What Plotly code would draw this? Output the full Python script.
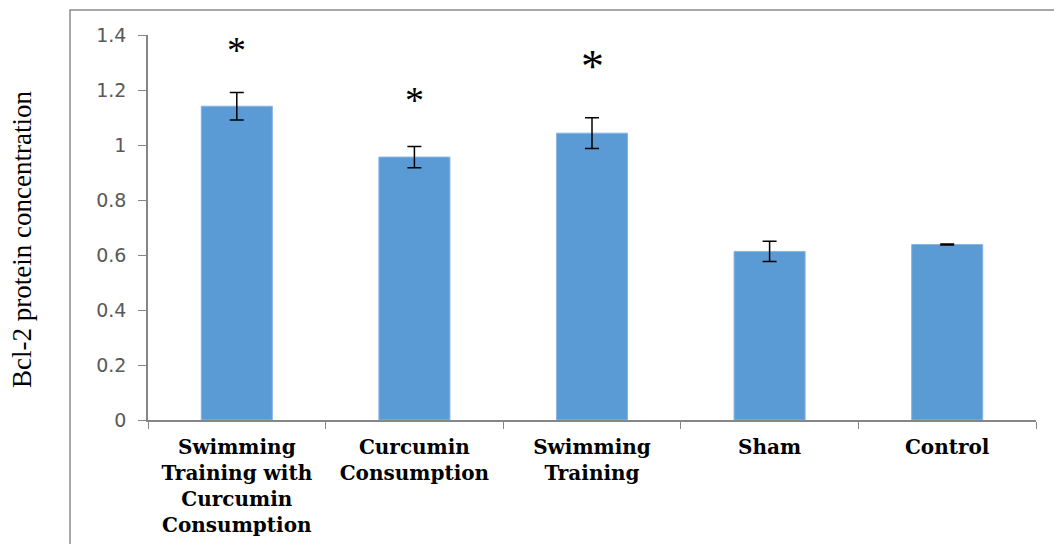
import plotly.graph_objects as go

categories = ["Swimming<br>Training with<br>Curcumin<br>Consumption",
              "Curcumin<br>Consumption",
              "Swimming<br>Training",
              "Sham",
              "Control"]
values = [1.141, 0.956, 1.043, 0.613, 0.638]
errors = [0.050, 0.039, 0.056, 0.037, 0.002]
significant = [True, True, True, False, False]
star_sizes = [38, 38, 46, 38, 38]
star_shift = [19, 23, 24, 20, 20]
y_ticks = [0, 0.2, 0.4, 0.6, 0.8, 1, 1.2, 1.4]
y_tick_text = ["0", "0.2", "0.4", "0.6", "0.8", "1", "1.2", "1.4"]
y_title = "Bcl-2 protein concentration"

fig = go.Figure()
fig.add_trace(go.Bar(
    x=categories, y=values,
    marker=dict(color="#5B9BD5", line=dict(color="#86B4E2", width=1)),
    width=0.4,
    error_y=dict(type="data", array=errors, visible=True,
                 color="#000000", thickness=1.5, width=7),
))

for c, v, e, s, fs, sh in zip(categories, values, errors, significant, star_sizes, star_shift):
    if s:
        fig.add_annotation(x=c, y=v + e, text="*", showarrow=False,
                           yanchor="bottom", yshift=sh,
                           font=dict(family="Liberation Serif", size=fs, color="#000000"))

W, H = 1054, 544
L, R, T, B = 148, 18, 35, 124
pw, ph = W - L - R, H - T - B
fig.add_shape(type="rect", xref="paper", yref="paper",
              x0=(70 - L) / pw, x1=1.2, y0=-0.6, y1=(H - B - 10) / ph,
              line=dict(color="#8C8C8C", width=1.5), fillcolor="rgba(0,0,0,0)")

fig.add_annotation(xref="paper", yref="paper",
                   x=(22 - L) / pw, y=(H - B - 240) / ph,
                   text=y_title, textangle=-90, showarrow=False,
                   xanchor="center", yanchor="middle",
                   font=dict(family="Liberation Serif", size=27, color="#000000"))

fig.update_layout(
    width=W, height=H,
    margin=dict(l=L, r=R, t=T, b=B, autoexpand=False),
    plot_bgcolor="white", paper_bgcolor="white",
    showlegend=False,
    bargap=0.6,
)
fig.update_xaxes(
    type="category", tickson="boundaries", ticks="outside", ticklen=7,
    tickcolor="#868686", showline=True, linecolor="#868686", linewidth=1.5,
    tickfont=dict(family="DejaVu Serif", size=20, color="#000000", weight="bold"),
    tickangle=0, ticklabelstandoff=8, automargin=False,
)
fig.update_yaxes(
    range=[0, 1.4], tickvals=y_ticks, ticktext=y_tick_text,
    ticks="outside", ticklen=8, tickcolor="#868686",
    showline=True, linecolor="#868686", linewidth=1.5, showgrid=False,
    zeroline=False, automargin=False,
    tickfont=dict(family="DejaVu Sans", size=19, color="#595959"),
    ticklabelstandoff=8,
)

fig.write_html("out.html", config={"displayModeBar": False},
               post_script="document.body.style.margin='0';")
